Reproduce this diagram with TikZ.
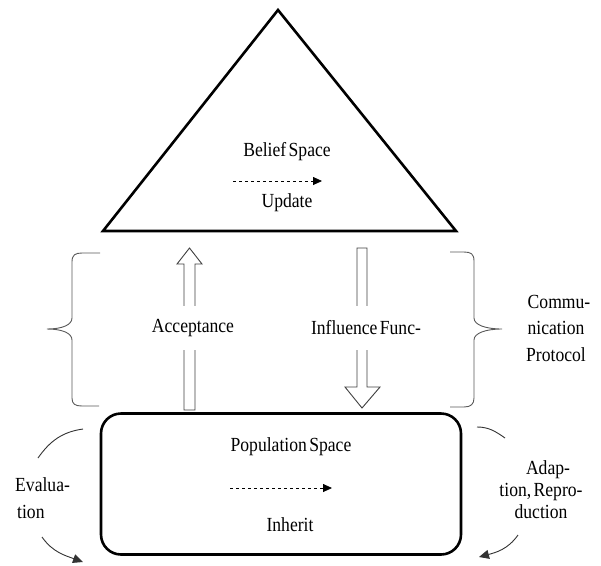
\documentclass[tikz,border=0pt]{standalone}
\usepackage{fontspec}
\setmainfont{Liberation Serif}[FakeStretch=0.88]
\usetikzlibrary{arrows.meta}
\begin{document}
\begin{tikzpicture}[x=1pt,y=-1pt,
  txt/.style={font=\fontsize{20}{22}\selectfont, inner sep=0pt, text=black},
  thickline/.style={line width=2.6pt, black},
  brace/.style={line width=0.9pt, draw=black!65},
  hollow/.style={line width=0.9pt, draw=black!75, fill=white},
  thin/.style={line width=0.9pt, black!80},
  dasharrow/.style={dashed, line width=0.8pt, -{Triangle[length=9pt,width=8pt]}},
  curvearrow/.style={thin, -{Triangle[length=10pt,width=9pt]}}]
\useasboundingbox (0,0) rectangle (601,565);
% triangle
\coordinate (apex) at (278,10);
\coordinate (bl) at (103,231);
\coordinate (br) at (456,231);
\draw[thickline, line join=miter] (apex) -- (br) -- (bl) -- cycle;
\node[txt] (belief) at (287,152) {Belief\hspace{-2pt} Space};
\coordinate (bs1) at (233,181);
\coordinate (bs2) at (322,181);
\draw[dasharrow] (bs1) -- (bs2);
\node[txt] (update) at (287,203) {Update};
% population rectangle
\node[draw, line width=2.6pt, rounded corners=20pt, minimum width=360pt, minimum height=141pt, inner sep=0pt] (pop) at (281,484) {};
\node[txt] (popt) at (291,447) {Population\hspace{-2pt} Space};
\coordinate (ps1) at (230,488);
\coordinate (ps2) at (332,488);
\draw[dasharrow] (ps1) -- (ps2);
\node[txt] (inherit) at (290,525) {Inherit};
% hollow arrows
\draw[hollow] (184,410) -- (184,264) -- (177,264) -- (189.5,248) -- (202,264) -- (195,264) -- (195,410) -- cycle;
\draw[hollow] (357,248) -- (357,387) -- (345,387) -- (362,408) -- (380,387) -- (367,387) -- (367,248) -- cycle;
\node[txt, fill=white, minimum height=44pt, inner xsep=3pt] (acc) at (193,328) {Acceptance};
\node[txt, fill=white, minimum height=44pt, inner xsep=3pt] (infl) at (366,328) {Influence\hspace{-2pt} Func-};
% braces
\draw[brace] (100,253) -- (82,253) .. controls (75,253) and (72,255) .. (72,262) -- (72,318)
  .. controls (72,325) and (62,329) .. (47,329)
  .. controls (62,329) and (72,333) .. (72,340) -- (72,398)
  .. controls (72,404) and (75,406) .. (82,406) -- (99,406);
\draw[brace] (450,252) -- (464,252) .. controls (471,252) and (474,254) .. (474,261) -- (474,318)
  .. controls (474,325) and (486,329) .. (502,329)
  .. controls (486,329) and (474,333) .. (474,340) -- (474,398)
  .. controls (474,404) and (471,407) .. (464,407) -- (450,407);
\node[txt, align=center, font=\fontsize{20}{26.5}\selectfont] (comm) at (556,328) {\hspace*{6pt}Commu-\\nication\\Protocol};
% evaluation
\coordinate (e1) at (83,429);
\coordinate (e2) at (38,458);
\draw[thin] (e1) to[out=188,in=55] (e2);
\coordinate (e3) at (42,537);
\coordinate (e4) at (83,562);
\draw[curvearrow] (e3) to[out=-55,in=160] (e4);
\node[txt, align=left, anchor=west, font=\fontsize{20}{27}\selectfont] (eval) at (15,498) {Evalua-\\\hspace*{2pt}tion};
% adaptation
\coordinate (a1) at (477,427);
\coordinate (a2) at (505,438);
\draw[thin] (a1) to[out=0,in=145] (a2);
\coordinate (a3) at (518,535);
\coordinate (a4) at (479,557);
\draw[curvearrow] (a3) to[out=235,in=15] (a4);
\node[txt, align=center, font=\fontsize{20}{22}\selectfont] (adap) at (541,490) {\hspace*{14pt}Adap-\\tion,\hspace{-2pt} Repro-\\duction};
\end{tikzpicture}
\end{document}
